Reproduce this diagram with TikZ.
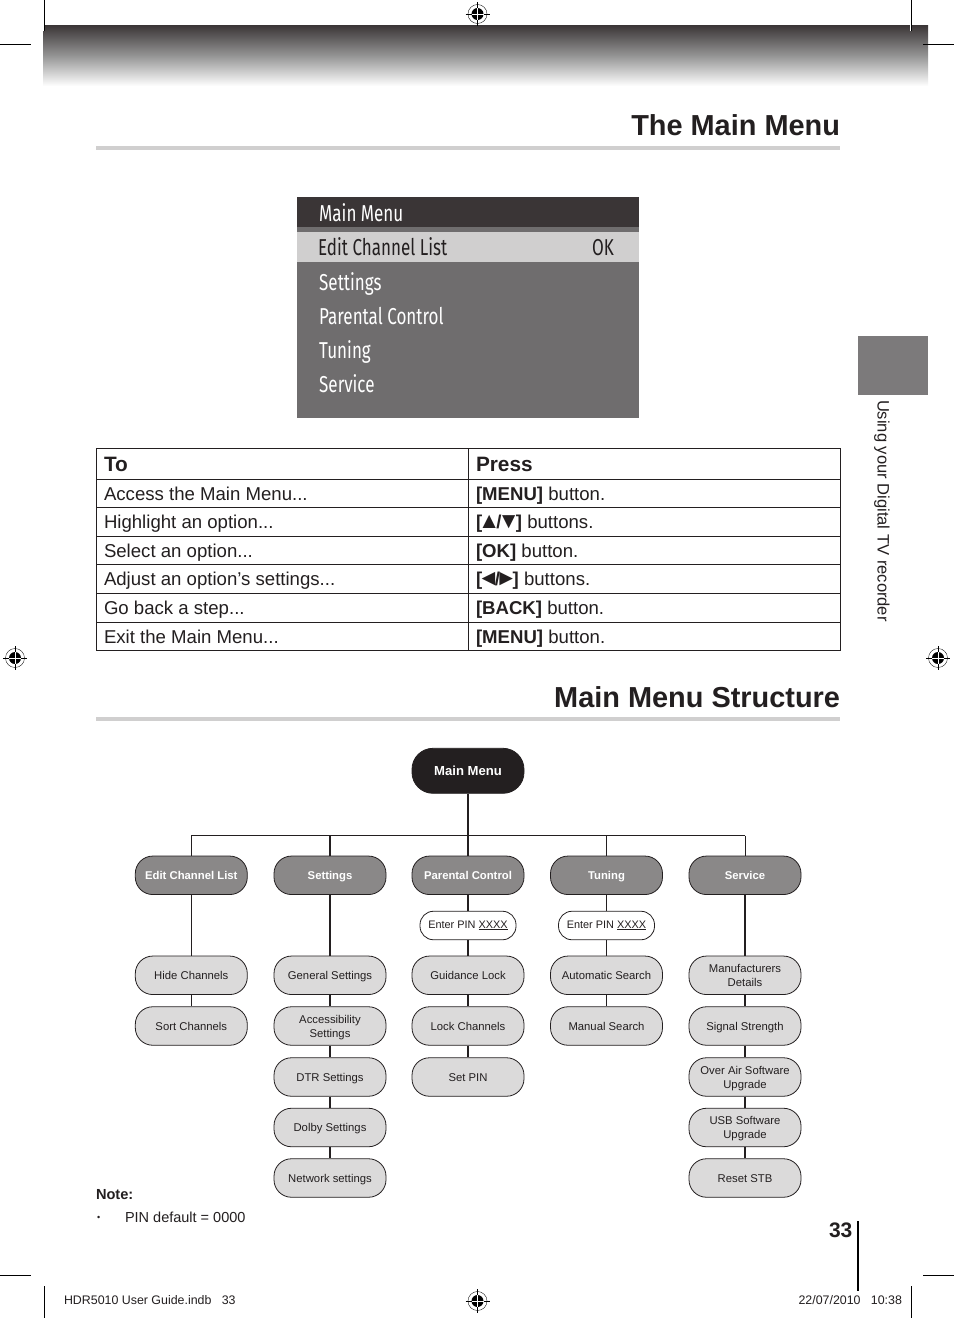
\documentclass[tikz,border=0pt]{standalone}
\usepackage{fontspec}
\setmainfont{Liberation Sans}
\newfontfamily\menufont[FakeStretch=0.74]{Fira Sans}
\usetikzlibrary{shadings}
\definecolor{inkc}{HTML}{231F20}
\definecolor{rulec}{HTML}{D0CFCF}
\definecolor{menubg}{HTML}{6F6D6E}
\definecolor{menuhead}{HTML}{3A3536}
\definecolor{lone}{HTML}{8A8888}
\definecolor{ltwo}{HTML}{DBDADA}
\definecolor{sidec}{HTML}{7C7A7B}
\newcommand{\fs}[1]{\fontsize{#1}{#1}\selectfont}
\newcommand{\triv}[1]{{\fontsize{22.5}{22.5}\selectfont\kern-4pt #1\kern-4pt}}
\newcommand{\trih}[1]{{\fontsize{22.5}{22.5}\selectfont\kern-4.8pt #1\kern-4.8pt}}
\tikzset{
  x=1pt,y=-1pt,
  txt/.style={inner sep=0pt,outer sep=0pt,text=inkc},
  bw/.style={txt,anchor=base west},
  be/.style={txt,anchor=base east},
  title/.style={be,font=\bfseries\fs{28.9}},
  cell/.style={bw,font=\fs{18.6}},
  head/.style={bw,font=\bfseries\fs{20.8}},
  mitem/.style={inner sep=0pt,anchor=base west,text=white,font=\menufont\fs{23}},
  box/.style={draw=inkc,line width=0.8pt,minimum width=112pt,minimum height=38.5pt,rounded corners=17.5pt,inner sep=0pt,align=center,text=inkc},
  lvl/.style={box,fill=lone,text=white,text height=10pt,text depth=2pt,font=\bfseries\fs{11.3}},
  leaf/.style={box,fill=ltwo,text height=10pt,text depth=2pt,font=\fs{11.3}},
  leaftwo/.style={box,fill=ltwo,text height=24.5pt,text depth=2.4pt,font=\fontsize{11.3}{14}\selectfont},
  pin/.style={box,fill=white,minimum width=96pt,minimum height=28.5pt,rounded corners=13.5pt,font=\fs{10.9}},
  root/.style={box,fill=inkc,text=white,minimum height=45pt,rounded corners=21pt,font=\bfseries\fs{13.1}},
  conn/.style={draw=inkc,line width=1.5pt},
  thinconn/.style={draw=inkc,line width=0.9pt},
  crop/.style={draw=black,line width=0.7pt},
  grid/.style={draw=inkc,line width=0.9pt}
}
\newcommand{\regmark}[2]{%
  \fill[white] (#1,#2) circle (9.5pt);
  \draw[black,line width=0.35pt] (#1,#2) circle (9.5pt);
  \fill[black] (#1,#2) circle (6pt);
  \draw[black,line width=0.7pt] (#1-12,#2) -- (#1+12,#2) (#1,#2-12) -- (#1,#2+12);
  \draw[white,line width=0.7pt] (#1-6,#2) -- (#1+6,#2) (#1,#2-6) -- (#1,#2+6);
}
\begin{document}
\begin{tikzpicture}
\useasboundingbox (0,0) rectangle (954,1318);
\fill[white] (0,0) rectangle (954,1318);
% header band
\shade[top color=menuhead,bottom color=white,middle color=black!42] (43,25) rectangle (928,86);
% crop marks
\draw[white,line width=2pt] (44,25) -- (44,31) (911,25) -- (911,31);
\draw[crop] (44,0) -- (44,31) (911,0) -- (911,31) (0,44) -- (31,44) (923,44) -- (954,44)
  (0,1275) -- (31,1275) (923,1275) -- (954,1275) (44,1286) -- (44,1318) (911,1286) -- (911,1318);
\regmark{477.5}{14}\regmark{477.5}{1301}\regmark{15}{658}\regmark{938}{658}
% titles
\node[title] (t1) at (840,135) {The Main Menu};
\fill[rulec] (96,146) rectangle (840,150);
\node[title] (t2) at (840,707) {Main Menu Structure};
\fill[rulec] (96,717) rectangle (840,721);
% screen
\fill[menubg] (297,197) rectangle (639,418);
\fill[menuhead] (297,197) rectangle (639,227);
\fill[rulec] (297,232) rectangle (639,262);
\node[mitem] (m0) at (319,221) {Main Menu};
\node[mitem,text=inkc] (m1) at (318,255.5) {Edit Channel List};
\node[mitem,text=inkc] (m1b) at (592,255.5) {OK};
\node[mitem] (m2) at (319,290) {Settings};
\node[mitem] (m3) at (319,324) {Parental Control};
\node[mitem] (m4) at (319,358) {Tuning};
\node[mitem] (m5) at (319,392) {Service};
% side tab
\fill[sidec] (858,336) rectangle (928,395);
\node[txt,rotate=-90,anchor=base west,font=\fs{16.55}] (side) at (877.5,400) {Using your Digital TV recorder};
% table
\draw[grid] (96.5,448.5) rectangle (840.5,650.5) (468.4,448.5) -- (468.4,650.5)
 (96.5,479.6) -- (840.5,479.6) (96.5,507.6) -- (840.5,507.6) (96.5,536.2) -- (840.5,536.2)
 (96.5,564.6) -- (840.5,564.6) (96.5,593.4) -- (840.5,593.4) (96.5,622) -- (840.5,622);
\node[head] (h1) at (104,471) {To};
\node[head] (h2) at (476,471) {Press};
\node[cell] (a1) at (104,500) {Access the Main Menu...};
\node[cell] (b1) at (476,500) {\textbf{[MENU]} button.};
\node[cell] (a2) at (104,528) {Highlight an option...};
\node[cell] (b2) at (476,528) {\textbf{[\triv{▲}/\triv{▼}]} buttons.};
\node[cell] (a3) at (104,557) {Select an option...};
\node[cell] (b3) at (476,557) {\textbf{[OK]} button.};
\node[cell] (a4) at (104,585) {Adjust an option’s settings...};
\node[cell] (b4) at (476,585) {\textbf{[\trih{◄}/\trih{►}]} buttons.};
\node[cell] (a5) at (104,614) {Go back a step...};
\node[cell] (b5) at (476,614) {\textbf{[BACK]} button.};
\node[cell] (a6) at (104,643) {Exit the Main Menu...};
\node[cell] (b6) at (476,643) {\textbf{[MENU]} button.};
% structure nodes
\node[root] (root) at (468,770.8) {Main Menu};
\coordinate (jc) at (468,835.5);
\node[lvl] (l1) at (191.3,875.3) {Edit Channel List};
\node[lvl] (l2) at (330,875.3) {Settings};
\node[lvl] (l3) at (468,875.3) {Parental Control};
\node[lvl] (l4) at (606.5,875.3) {Tuning};
\node[lvl] (l5) at (745,875.3) {Service};
\node[pin] (p3) at (468,925.5) {Enter PIN \underline{XXXX}};
\node[pin] (p4) at (606.5,925.5) {Enter PIN \underline{XXXX}};
\node[leaf] (a-1) at (191.3,975.3) {Hide Channels};
\node[leaf] (a-2) at (191.3,1026) {Sort Channels};
\node[leaf] (c-1) at (330,975.3) {General Settings};
\node[leaftwo] (c-2) at (330,1026) {Accessibility\\Settings};
\node[leaf] (c-3) at (330,1077) {DTR Settings};
\node[leaf] (c-4) at (330,1127.5) {Dolby Settings};
\node[leaf] (c-5) at (330,1178) {Network settings};
\node[leaf] (d-1) at (468,975.3) {Guidance Lock};
\node[leaf] (d-2) at (468,1026) {Lock Channels};
\node[leaf] (d-3) at (468,1077) {Set PIN};
\node[leaf] (e-1) at (606.5,975.3) {Automatic Search};
\node[leaf] (e-2) at (606.5,1026) {Manual Search};
\node[leaftwo] (f-1) at (745,975.3) {Manufacturers\\Details};
\node[leaf] (f-2) at (745,1026) {Signal Strength};
\node[leaftwo] (f-3) at (745,1077) {Over Air Software\\Upgrade};
\node[leaftwo] (f-4) at (745,1127.5) {USB Software\\Upgrade};
\node[leaf] (f-5) at (745,1178) {Reset STB};
% connectors
\draw[thinconn] (l1.north |- jc) -- (l5.north |- jc);
\draw[thinconn] (l1.north |- jc) -- (l1.north);
\draw[thinconn] (l5.north |- jc) -- (l5.north);
\draw[thinconn] (l4.north |- jc) -- (l4.north);
\draw[conn] (l2.north |- jc) -- (l2.north);
\draw[conn] (root.south) -- (l3.north);
\draw[thinconn] (l1) -- (a-1);
\draw[thinconn] (a-1) -- (a-2);
\draw[conn] (l2) -- (c-1);
\draw[conn] (c-1) -- (c-2);
\draw[conn] (c-2) -- (c-3);
\draw[conn] (c-3) -- (c-4);
\draw[conn] (c-4) -- (c-5);
\draw[conn] (l3) -- (p3);
\draw[conn] (p3) -- (d-1);
\draw[conn] (d-1) -- (d-2);
\draw[conn] (d-2) -- (d-3);
\draw[thinconn] (l4) -- (p4);
\draw[thinconn] (p4) -- (e-1);
\draw[thinconn] (e-1) -- (e-2);
\draw[conn] (l5) -- (f-1);
\draw[conn] (f-1) -- (f-2);
\draw[conn] (f-2) -- (f-3);
\draw[conn] (f-3) -- (f-4);
\draw[conn] (f-4) -- (f-5);
% note
\node[bw,font=\bfseries\fs{14.6}] (note) at (96,1199) {Note:};
\node[bw,font=\fs{9}] (bul) at (97,1220.5) {•};
\node[bw,font=\fs{14.5}] (pind) at (125,1222) {PIN default = 0000};
% footer
\node[bw,font=\bfseries\fs{21}] (pg) at (829,1237) {33};
\draw[draw=black,line width=1.5pt] (858,1221) -- (858,1291);
\node[bw,font=\fs{12.4}] (fl) at (64,1304) {HDR5010 User Guide.indb\ \ \ 33};
\node[be,font=\fs{12.4}] (fr) at (902,1304) {22/07/2010\ \ \ 10:38};
\end{tikzpicture}
\end{document}
